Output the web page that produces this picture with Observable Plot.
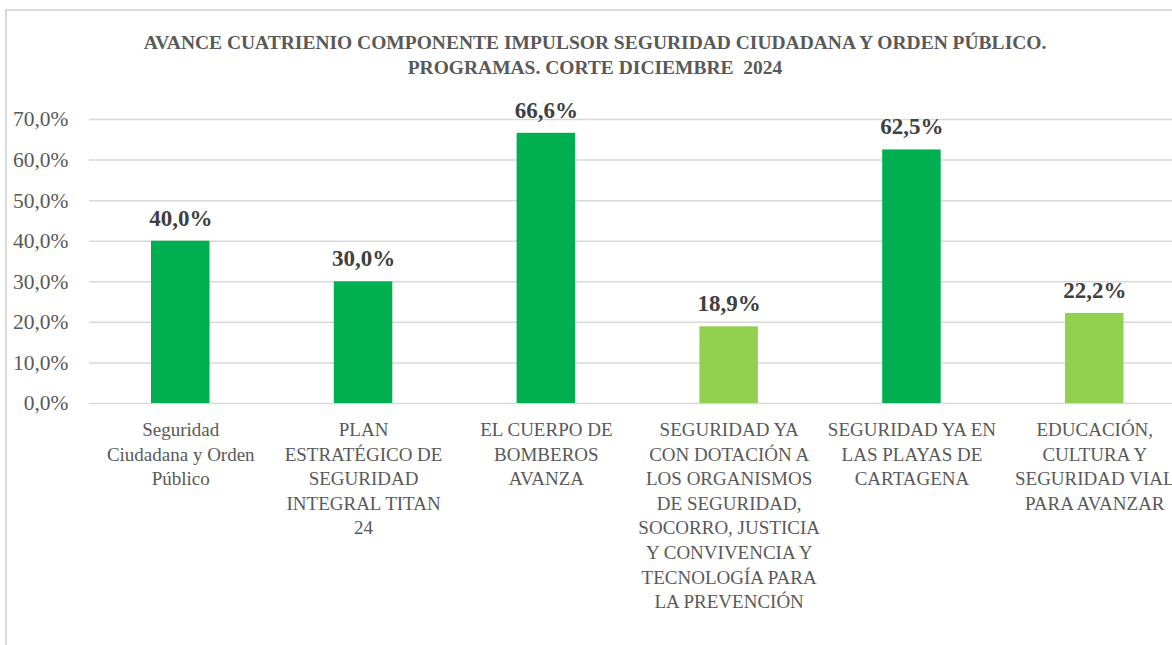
<!DOCTYPE html>
<html>
<head>
<meta charset="utf-8">
<script src="https://cdn.jsdelivr.net/npm/d3@7"></script>
<script src="https://cdn.jsdelivr.net/npm/@observablehq/plot@0.6"></script>
<style>
  html, body { margin: 0; padding: 0; background: #fff; overflow: hidden; width: 1172px; height: 645px; }
  #wrap { position: relative; width: 1172px; height: 645px; overflow: hidden; }
  #frame { position: absolute; left: 5px; top: 9px; width: 2000px; height: 2000px; border: 2px solid #d9d9d9; box-sizing: border-box; }
  .title { position: absolute; left: 95px; width: 1000px; text-align: center; font-family: "Liberation Serif", serif; font-weight: bold; font-size: 19.5px; color: #595959; white-space: pre; line-height: 24px; }
  #chart { position: absolute; left: 0; top: 0; }
</style>
</head>
<body>
<div id="wrap">
  <div id="frame"></div>
  <div id="chart"></div>
  <div class="title" style="top:31px;">AVANCE CUATRIENIO COMPONENTE IMPULSOR SEGURIDAD CIUDADANA Y ORDEN PÚBLICO.</div>
  <div class="title" style="top:56px;">PROGRAMAS. CORTE DICIEMBRE  2024</div>
</div>
<script>
const categories = [
  "Seguridad Ciudadana y Orden Público",
  "PLAN ESTRATÉGICO DE SEGURIDAD INTEGRAL TITAN 24",
  "EL CUERPO DE BOMBEROS AVANZA",
  "SEGURIDAD YA CON DOTACIÓN A LOS ORGANISMOS DE SEGURIDAD, SOCORRO, JUSTICIA Y CONVIVENCIA Y TECNOLOGÍA PARA LA PREVENCIÓN",
  "SEGURIDAD YA EN LAS PLAYAS DE CARTAGENA",
  "EDUCACIÓN, CULTURA Y SEGURIDAD VIAL PARA AVANZAR"
];
const categoryLines = [
  "Seguridad\nCiudadana y Orden\nPúblico",
  "PLAN\nESTRATÉGICO DE\nSEGURIDAD\nINTEGRAL TITAN\n24",
  "EL CUERPO DE\nBOMBEROS\nAVANZA",
  "SEGURIDAD YA\nCON DOTACIÓN A\nLOS ORGANISMOS\nDE SEGURIDAD,\nSOCORRO, JUSTICIA\nY CONVIVENCIA Y\nTECNOLOGÍA PARA\nLA PREVENCIÓN",
  "SEGURIDAD YA EN\nLAS PLAYAS DE\nCARTAGENA",
  "EDUCACIÓN,\nCULTURA Y\nSEGURIDAD VIAL\nPARA AVANZAR"
];
const values = [0.400, 0.300, 0.666, 0.189, 0.625, 0.222];
const barColors = ["#00B050", "#00B050", "#00B050", "#92D050", "#00B050", "#92D050"];
const yTicks = [0, 0.1, 0.2, 0.3, 0.4, 0.5, 0.6, 0.7];

const data = categories.map((c, i) => ({category: c, value: values[i], color: barColors[i]}));
const labelOf = new Map(categories.map((c, i) => [c, categoryLines[i]]));
const locale = d3.formatLocale({decimal: ",", thousands: ".", grouping: [3], currency: ["", "€"]});
const pct = locale.format(".1%");

const chart = Plot.plot({
  width: 1172,
  height: 645,
  marginTop: 119,
  marginBottom: 242,
  marginLeft: 89,
  marginRight: 0,
  style: {fontFamily: "'Liberation Serif', serif", color: "#595959", background: "transparent"},
  x: {domain: categories, range: [88.85, 1185.65], paddingInner: 0.68, paddingOuter: 0.34, round: false, axis: null, label: null},
  y: {domain: [0, 0.7], axis: null, label: null},
  marks: [
    Plot.gridY(yTicks, {stroke: "#d9d9d9", strokeOpacity: 1, strokeWidth: 1.5}),
    Plot.barY(data, {x: "category", y: "value", fill: "color"}),
    Plot.text(data, {x: "category", y: "value", text: d => pct(d.value), dy: -23, fontSize: 23, fontWeight: "bold", fill: "#404040"}),
    Plot.axisY(yTicks, {tickSize: 0, tickPadding: 21, tickFormat: pct, fontSize: 21.5, fill: "#595959", label: null}),
    Plot.axisX({tickSize: 0, tickPadding: 15, tickFormat: d => labelOf.get(d), fontSize: 19, lineHeight: 1.295, lineAnchor: "top", fill: "#595959", label: null})
  ]
});
document.getElementById("chart").appendChild(chart);
</script>
</body>
</html>
